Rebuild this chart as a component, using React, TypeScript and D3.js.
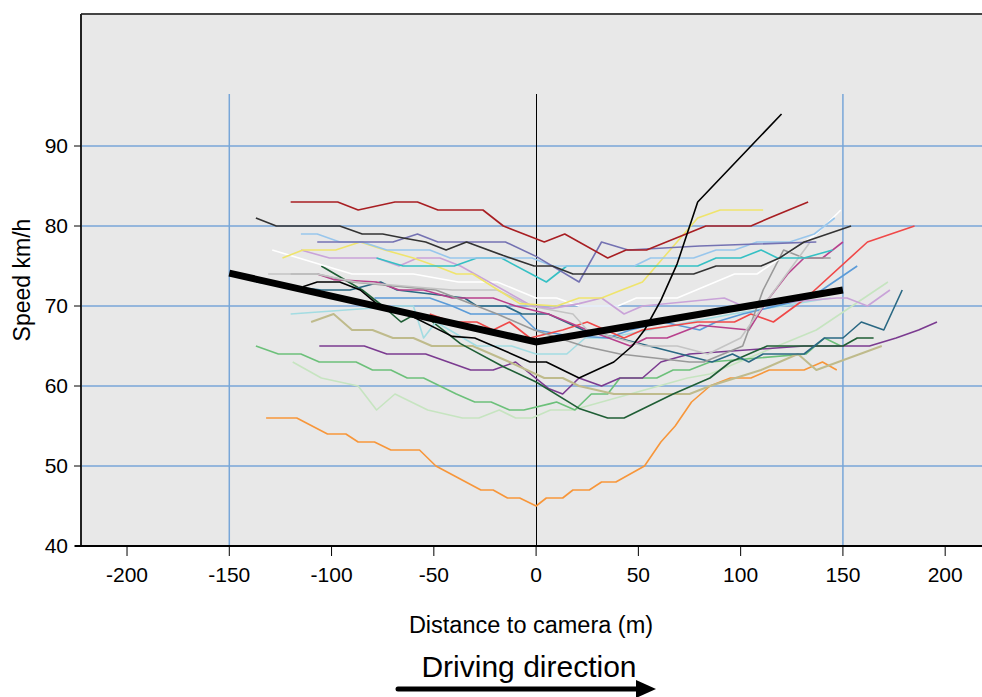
import React from "react";
import * as d3 from "d3";

type Pt = [number, number];

// speed profiles: [distance m, speed km/h]
const red1: Pt[] = [[-120,83],[-97,83],[-87,82],[-69,83],[-58,83],[-48,82],[-26,82],[-16,80],[4,78],[14,79],[35,76],[44,77],[54,77],[83,80],[105,80],[114,81],[133,83]];
const darkGray: Pt[] = [[-137,81],[-127,80],[-96,80],[-85,79],[-75,79],[-65,78.5],[-54,78],[-44,77],[-34,78],[-16,76.3],[-1,75],[8,75],[18,74],[77,74],[88,75],[110,75],[119,76],[131,78],[154,80]];
const slate: Pt[] = [[-107,78],[-70,78],[-58,79],[-48,78],[-15,78],[0,76.2],[21,73],[32,78],[45,77],[80,77.5],[137,78]];
const lightBlue: Pt[] = [[-115,79],[-107,79],[-96,78],[-85,78],[-73,77],[-52,77],[-42,76],[-18,76],[-2,76],[8,75],[48,75],[56,76],[77,76],[88,77],[97,77],[108,78],[124,78],[136,79],[146,81]];
const teal: Pt[] = [[-78,76],[-65,75],[-40,75],[-29,76],[-17,76],[5,73],[15,75],[79,75],[88,76],[100,76],[110,77],[118,76],[131,76],[145,77]];
const yellow: Pt[] = [[-124,76],[-114,77],[-98,77],[-86,78],[-74,77],[-60,76],[-49,75],[-39,74],[-31,74],[-8,70.3],[10,70],[21,71],[32,71],[40,71.8],[52,73],[79,81],[90,82],[111,82]];
const lavender: Pt[] = [[-115,77],[-101,76],[-78,76],[-67,75],[-58,76],[-47,76],[-37,75],[-2,70],[8,69.7],[21,70.3],[32,71],[43,69],[52,70],[92,71],[101,70],[147,71],[152,71],[162,70],[173,72]];
const white: Pt[] = [[-129,77],[-90,74],[-60,74],[-38,73],[-19,73],[0,71],[10,71],[21,70],[40,70],[49,71],[69,71],[97,74],[108,74],[137,79],[149,82]];
const lightGray: Pt[] = [[-131,74],[-107,74],[-88,73],[-41,72],[-19,72],[-3,70],[18,69],[25,67],[53,65],[69,65],[84,64],[100,66],[111,70],[134,78]];
const midGray: Pt[] = [[-120,74],[-107,74],[-90,73],[-49,72],[-19,69],[-1,67],[23,65],[41,64],[75,63],[82,63],[101,65],[111,72],[121,77],[131,76],[144,76]];
const pink: Pt[] = [[-107,74],[-99,73.3],[-78,73],[-67,72],[-55,72],[-41,71],[-21,71],[-10,70],[6,69],[25,67],[46,65],[54,66],[64,66],[80,67.6],[104,67],[113,70.7],[123,74],[131,76],[140,76],[150,78]];
const steel: Pt[] = [[-137,73],[-105,72],[-91,72],[-76,73],[-68,72],[-35,71],[-29,70],[-15,70],[-7,69],[6,69],[23,67],[40,66],[86,63],[96,64],[104,63],[111,64],[131,64],[141,66],[150,66],[159,68],[170,67],[179,72]];
const midBlue: Pt[] = [[-79,71],[-52,71],[-41,70],[-32,69],[-8,69],[0,67],[13,66.4],[35,66],[46,67],[62,68],[80,67],[88,68],[101,69],[134,71],[157,75]];
const red2: Pt[] = [[-52,69],[-41,68],[-29,68],[-21,67],[-13,68],[-3,66],[13,67],[25,68],[43,66],[52,67],[79,68],[97,68],[105,69],[116,68],[132,71],[162,78],[185,80]];
const lightCyan: Pt[] = [[-120,69],[-66,70],[-60,70],[-55,66],[-49,68],[-29,65],[-12,65],[0,64],[15,64],[24,66],[35,66],[55,67],[96,69],[144,71]];
const darkGreen: Pt[] = [[-105,75],[-85,72],[-75,70],[-66,68],[-61,68.7],[-52,68.3],[-37,65.3],[-16,62.4],[0,60.5],[21,57.2],[35,56],[43,56],[67,59],[85,61],[95,63],[113,65],[150,65],[157,66],[165,66]];
const blackThin: Pt[] = [[-114,72.4],[-107,73],[-96,73],[-86,72],[-78,70.3],[-63,69],[-41,66.2],[-30,66],[-18,64.7],[-3,63],[5,63],[21,61],[38,63],[47,65],[53,67],[61,70.7],[69,75.3],[79,83],[120,94]];
const olive: Pt[] = [[-110,68],[-99,69],[-90,67],[-80,67],[-70,66],[-60,66],[-51,65],[-31,65],[-13,63],[4,61],[13,61],[21,60],[38,59],[75,59],[85,60],[110,62],[128,64],[137,62],[169,65]];
const purple: Pt[] = [[-106,65],[-84,65],[-73,64],[-54,64],[-32,62],[-21,62],[-10,63],[6,59.7],[13,59],[21,61],[32,60],[41,61],[52,61],[61,63],[75,64],[131,65],[163,65],[176,66],[187,67],[196,68]];
const midGreen: Pt[] = [[-137,65],[-126,64],[-115,64],[-106,63],[-88,63],[-80,62],[-71,62],[-63,61],[-55,61],[-39,59],[-30,58],[-22,58],[-13,57],[-6,57],[7,57.8],[10,58],[19,57],[27,59],[35,59],[41,61],[59,61],[67,62],[75,62],[85,63],[132,64],[141,66],[149,65]];
const paleGreen: Pt[] = [[-119,63],[-105,61],[-87,60],[-78,57],[-69,59],[-53,57],[-36,56],[-28,56],[-18,57],[-10,56],[-2,56],[7,57],[18,57],[74,61],[85,61.5],[137,67],[172,73]];
const orange: Pt[] = [[-132,56],[-117,56],[-102,54],[-93,54],[-87,53],[-79,53],[-71,52],[-57,52],[-49,50],[-27,47],[-21,47],[-14,46],[-8,46],[0,45],[5,46],[13,46],[18,47],[26,47],[32,48],[39,48],[53,50],[61,53],[68,55],[76,58],[85,60],[95,61],[105,61],[114,62],[131,62],[140,63],[147,62]];
const average: Pt[] = [[-150,74.1],[0,65.5],[150,72]];

const xTicks = [-200, -150, -100, -50, 0, 50, 100, 150, 200];
const yTicks = [40, 50, 60, 70, 80, 90];

const series: { data: Pt[]; color: string; w?: number }[] = [
  { data: orange, color: "#f7963a" },
  { data: paleGreen, color: "#c6e4c0" },
  { data: midGreen, color: "#6cc07a" },
  { data: purple, color: "#7b3b90" },
  { data: olive, color: "#bfbb8c", w: 2 },
  { data: darkGreen, color: "#1f5e35" },
  { data: lightCyan, color: "#a3dce2" },
  { data: midBlue, color: "#5b9bd8" },
  { data: steel, color: "#2a6883" },
  { data: red2, color: "#f04848" },
  { data: pink, color: "#b8408c" },
  { data: midGray, color: "#999999" },
  { data: lightGray, color: "#c4c4c4" },
  { data: white, color: "#ffffff" },
  { data: lavender, color: "#c9a3d8" },
  { data: yellow, color: "#efe46c" },
  { data: teal, color: "#35c0c4" },
  { data: lightBlue, color: "#98c6ec" },
  { data: slate, color: "#7472b2" },
  { data: darkGray, color: "#333333" },
  { data: red1, color: "#a81e22" },
  { data: blackThin, color: "#000000" },
];

const W = 982, H = 697;
const L = 81, R = 982, T = 14, B = 546;
const font = "'Liberation Sans Narrow', 'Liberation Sans', Arial, sans-serif";

export default function App() {
  const x = d3.scaleLinear().domain([-222.5, 218]).range([L, R]);
  const y = d3.scaleLinear().domain([40, 106.5]).range([B, T]);
  const line = d3.line<Pt>().x(d => x(d[0])).y(d => y(d[1]));
  const grid = "#78a6d8";

  return (
    <svg width={W} height={H} style={{ position: "absolute", left: 0, top: 0, background: "#fff" }}>
      <rect x={L} y={T} width={R - L} height={B - T} fill="#e8e8e8" />
      {yTicks.filter(t => t > 40).map(t => (
        <line key={t} x1={L} x2={R} y1={y(t)} y2={y(t)} stroke={grid} strokeWidth={1.5} />
      ))}
      {[-150, 150].map(t => (
        <line key={t} x1={x(t)} x2={x(t)} y1={y(96.5)} y2={B} stroke={grid} strokeWidth={1.5} />
      ))}
      <line x1={Math.round(x(0)) + 0.5} x2={Math.round(x(0)) + 0.5} y1={y(96.5)} y2={B} stroke="#000" strokeWidth={1} />
      {series.map((s, i) => (
        <path key={i} d={line(s.data) || ""} fill="none" stroke={s.color} strokeWidth={s.w ?? 1.6} strokeLinejoin="round" />
      ))}
      <path d={line(average) || ""} fill="none" stroke="#000" strokeWidth={7} />
      <line x1={L} x2={R} y1={T} y2={T} stroke="#444" strokeWidth={2} />
      <line x1={L} x2={L} y1={T} y2={B} stroke="#222" strokeWidth={2} />
      <line x1={L - 6} x2={R} y1={B} y2={B} stroke="#000" strokeWidth={2} />
      {yTicks.map(t => (
        <g key={t}>
          <line x1={L - 7} x2={L} y1={y(t)} y2={y(t)} stroke="#000" strokeWidth={1} />
          <text x={68} y={y(t)} dy="0.35em" textAnchor="end" fontFamily={font} fontSize={21} fill="#000">{t}</text>
        </g>
      ))}
      {xTicks.map(t => (
        <g key={t}>
          <line x1={x(t)} x2={x(t)} y1={B} y2={B + 10} stroke="#000" strokeWidth={1} />
          <text x={x(t)} y={575} dy="0.35em" textAnchor="middle" fontFamily={font} fontSize={21} fill="#000">{t}</text>
        </g>
      ))}
      <text transform="translate(22,280) rotate(-90)" textAnchor="middle" dy="0.35em" fontFamily={font} fontSize={23} fill="#000">Speed km/h</text>
      <text x={531} y={625} dy="0.35em" textAnchor="middle" fontFamily={font} fontSize={23.5} fill="#000">Distance to camera (m)</text>
      <text x={529} y={666} dy="0.35em" textAnchor="middle" fontFamily={font} fontSize={30} fill="#000">Driving direction</text>
      <line x1={398} x2={640} y1={689} y2={689} stroke="#000" strokeWidth={5} strokeLinecap="round" />
      <path d="M636,680 L656,689 L636,698 Z" fill="#000" />
    </svg>
  );
}
